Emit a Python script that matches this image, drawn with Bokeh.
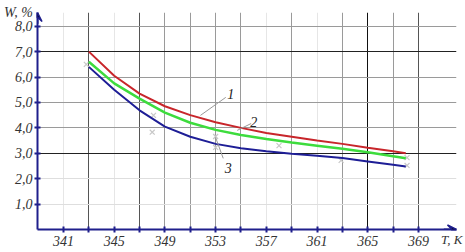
from bokeh.plotting import figure
from bokeh.models import FixedTicker, Grid, Arrow, VeeHead
from bokeh.core.properties import value
from bokeh.embed import file_html
from bokeh.resources import INLINE

# ---- data ----
T = [343, 345, 347, 349, 351, 353, 355, 357, 359, 361, 363, 365, 367, 368]
W1 = [7.0, 6.05, 5.35, 4.85, 4.50, 4.22, 4.00, 3.80, 3.65, 3.50, 3.37, 3.22, 3.08, 3.00]
W2 = [6.6, 5.75, 5.15, 4.60, 4.20, 3.92, 3.72, 3.56, 3.42, 3.30, 3.18, 3.04, 2.88, 2.80]
W3 = [6.4, 5.50, 4.69, 4.05, 3.65, 3.37, 3.20, 3.08, 2.98, 2.90, 2.81, 2.68, 2.55, 2.48]
exp_T = [342.8, 348.1, 348.0, 353.0, 353.0, 358.0, 362.9, 368.1, 368.1]
exp_W = [6.50, 4.49, 3.83, 3.66, 3.23, 3.30, 2.72, 2.83, 2.52]
x_ticks = [341, 343, 345, 347, 349, 351, 353, 355, 357, 359, 361, 363, 365, 367, 369]
x_labels = ["341", "", "345", "", "349", "", "353", "", "357", "", "361", "", "365", "", "369"]
y_ticks = [1, 2, 3, 4, 5, 6, 7, 8]
y_labels = ["1,0", "2,0", "3,0", "4,0", "5,0", "6,0", "7,0", "8,0"]
x_title = "T, K"
y_title = "W, %"
curve_names = ["1", "2", "3"]
name_pos_T = [354.2, 356.0, 354.0]
name_pos_W = [5.35, 4.25, 2.44]
leader_T0 = [351.8, 354.7, 353.0]
leader_W0 = [4.49, 3.90, 3.62]
leader_T1 = [353.8, 355.8, 353.6]
leader_W1 = [5.20, 4.17, 2.80]

AX = "#1f1f8c"
FONT = "'Liberation Serif'"

p = figure(width=465, height=252, output_backend="svg", toolbar_location=None,
           x_range=(338.95, 372.0), y_range=(0, 8.54),
           min_border_left=37, min_border_right=9, min_border_top=12, min_border_bottom=23)
p.outline_line_color = None
p.xgrid.visible = False
p.ygrid.visible = False

for ax, ticks, labels in ((p.xaxis[0], x_ticks, x_labels), (p.yaxis[0], y_ticks, y_labels)):
    ax.ticker = FixedTicker(ticks=ticks)
    ax.major_label_overrides = {t: l for t, l in zip(ticks, labels)}
    ax.axis_line_color = AX
    ax.axis_line_width = 2
    ax.major_tick_line_color = AX
    ax.major_tick_line_width = 2
    ax.major_tick_in = 3
    ax.major_tick_out = 3
    ax.minor_tick_line_color = None
    ax.major_label_text_font = FONT
    ax.major_label_text_font_style = "italic"
    ax.major_label_text_font_size = "14px"
    ax.major_label_text_color = "#333333"
    ax.axis_label_text_font = FONT
    ax.axis_label_text_font_style = "italic"
    ax.axis_label_text_font_size = "14px"
    ax.axis_label_text_color = "#333333"
    ax.axis_label_align = "end"
p.xaxis.major_label_standoff = 3
p.yaxis.major_label_standoff = 2
p.xaxis.axis_label = x_title + "\u00a0\u00a0\u00a0"
p.xaxis.axis_label_text_font_size = "13px"
p.xaxis.axis_label_standoff = -17
p.xaxis.axis_label_text_align = "right"
p.yaxis.axis_label = y_title
p.yaxis.axis_label_orientation = "horizontal"
p.yaxis.axis_label_standoff = -21

# grid lines
def vgrid(ticks, color, width=1):
    p.add_layout(Grid(dimension=0, ticker=FixedTicker(ticks=ticks), bounds=(0, 8),
                      grid_line_color=color, grid_line_width=width))

def hgrid(ticks, color, width=1):
    p.add_layout(Grid(dimension=1, ticker=FixedTicker(ticks=ticks), bounds=(338.95, 369),
                      grid_line_color=color, grid_line_width=width))

vgrid([341, 345, 357, 361], "#e6e6e6")
vgrid([349, 351, 353, 355, 359, 363, 367], "#9a9a9a")
vgrid([343, 347, 369], "#555555")
vgrid([365], "#111111")
hgrid([1, 2], "#dedede")
hgrid([4, 5, 6, 8], "#9a9a9a")
hgrid([3, 7], "#222222")

# experimental points
p.scatter(exp_T, exp_W, marker="x", size=7, line_color="#c8c8c8", line_width=1.2)

# curves
p.line(T, W1, line_color="#c8262b", line_width=2)
p.line(T, W2, line_color="#3ddc3d", line_width=2.5)
p.line(T, W3, line_color="#1e1e96", line_width=2)

# leaders and labels
p.segment(leader_T0, leader_W0, leader_T1, leader_W1, line_color="#999999", line_width=1)
p.text(name_pos_T, name_pos_W, text=curve_names, text_font=value(FONT),
       text_font_style="italic", text_font_size="14px", text_color="#222222",
       text_align="center", text_baseline="middle")

# axis arrows
p.add_layout(Arrow(end=VeeHead(size=9, line_color=AX, line_width=1.5), x_start=371, y_start=0,
                   x_end=372.0, y_end=0, line_color=AX, line_width=2))
p.add_layout(Arrow(end=VeeHead(size=9, line_color=AX, line_width=1.5), x_start=338.95, y_start=8.1,
                   x_end=338.95, y_end=8.54, line_color=AX, line_width=2))

open("out.html", "w").write(file_html(p, INLINE))
